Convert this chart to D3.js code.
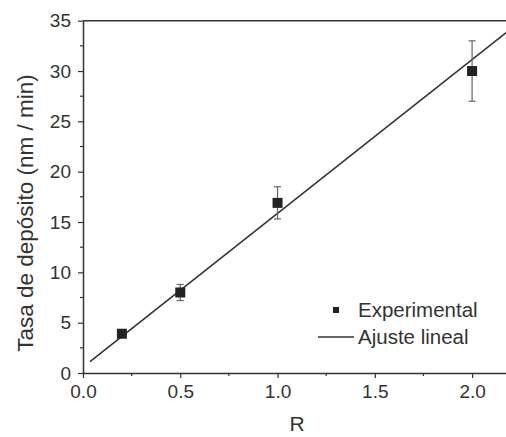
<!DOCTYPE html>
<html>
<head>
<meta charset="utf-8">
<script src="https://cdn.jsdelivr.net/npm/d3@7"></script>
<style>
  body { margin: 0; background: #fff; }
  svg { display: block; font-family: "Liberation Sans", Arial, sans-serif; }
</style>
</head>
<body>
<div id="mainDiv"></div>
<script>
// measured points
var ratioR = [0.2, 0.5, 1.0, 2.0];
var rate = [3.9, 8.0, 16.9, 30.0];
var rateErr = [0.3, 0.8, 1.6, 3.0];

// linear fit endpoints
var fitX = [0.036, 2.2];
var fitY = [1.12, 34.2];

var xTicks = [0, 0.5, 1.0, 1.5, 2.0];
var xMinor = [0.25, 0.75, 1.25, 1.75];
var yTicks = [0, 5, 10, 15, 20, 25, 30, 35];
var yMinor = [2.5, 7.5, 12.5, 17.5, 22.5, 27.5, 32.5];

var ink = "#333";

var svg = d3.select("#mainDiv").append("svg")
    .attr("width", 506).attr("height", 437);

var x = d3.scaleLinear().domain([0, 2.2]).range([83, 511]);
var y = d3.scaleLinear().domain([0, 35]).range([373, 20.7]);

// top frame line
svg.append("line")
    .attr("x1", x(0)).attr("x2", x(2.2))
    .attr("y1", y(35)).attr("y2", y(35))
    .attr("stroke", ink).attr("stroke-width", 1.5);

// x axis
var xAxis = svg.append("g").attr("transform", "translate(0," + y(0) + ")")
    .call(d3.axisBottom(x).tickValues(xTicks).tickFormat(d3.format(".1f"))
        .tickSize(5).tickPadding(7).tickSizeOuter(0));
xAxis.append("g").selectAll("line").data(xMinor).enter().append("line")
    .attr("x1", function(d) { return x(d); }).attr("x2", function(d) { return x(d); })
    .attr("y1", 0).attr("y2", 3).attr("stroke", ink).attr("stroke-width", 1.2);

// y axis
var yAxis = svg.append("g").attr("transform", "translate(" + x(0) + ",0)")
    .call(d3.axisLeft(y).tickValues(yTicks).tickSize(5).tickPadding(7).tickSizeOuter(0));
yAxis.append("g").selectAll("line").data(yMinor).enter().append("line")
    .attr("y1", function(d) { return y(d); }).attr("y2", function(d) { return y(d); })
    .attr("x1", 0).attr("x2", -3).attr("stroke", ink).attr("stroke-width", 1.2);

svg.selectAll(".domain").attr("stroke", ink).attr("stroke-width", 1.5);
svg.selectAll(".tick line").attr("stroke", ink).attr("stroke-width", 1.2);
svg.selectAll(".tick text").attr("fill", ink).style("font-size", "19px")
    .style("font-family", "'Liberation Sans', Arial, sans-serif");

// fit line
svg.append("line")
    .attr("x1", x(fitX[0])).attr("y1", y(fitY[0]))
    .attr("x2", x(fitX[1])).attr("y2", y(fitY[1]))
    .attr("stroke", ink).attr("stroke-width", 1.6);

// error bars + markers
ratioR.forEach(function(r, i) {
    var cx = x(r);
    var top = y(rate[i] + rateErr[i]), bot = y(rate[i] - rateErr[i]);
    svg.append("line").attr("x1", cx).attr("x2", cx).attr("y1", top).attr("y2", bot)
        .attr("stroke", "#666").attr("stroke-width", 1.2);
    [top, bot].forEach(function(yy) {
        svg.append("line").attr("x1", cx - 3.5).attr("x2", cx + 3.5).attr("y1", yy).attr("y2", yy)
            .attr("stroke", "#666").attr("stroke-width", 1.2);
    });
    svg.append("rect")
        .attr("x", cx - 5).attr("y", y(rate[i]) - 5)
        .attr("width", 10).attr("height", 10)
        .attr("fill", "#222");
});

// legend
svg.append("rect").attr("x", 333).attr("y", 307).attr("width", 6).attr("height", 6).attr("fill", "#222");
svg.append("text").attr("x", 358).attr("y", 317).text("Experimental")
    .attr("fill", ink).style("font-size", "20.5px");
svg.append("line").attr("x1", 318).attr("x2", 354).attr("y1", 337).attr("y2", 337)
    .attr("stroke", ink).attr("stroke-width", 1.5);
svg.append("text").attr("x", 358).attr("y", 344).text("Ajuste lineal")
    .attr("fill", ink).style("font-size", "20.5px");

// axis titles
svg.append("text").attr("x", 297).attr("y", 431).attr("text-anchor", "middle")
    .text("R").attr("fill", ink).style("font-size", "21px");
svg.append("text")
    .attr("transform", "translate(33,213) rotate(-90)")
    .attr("text-anchor", "middle")
    .text("Tasa de depósito (nm / min)")
    .attr("fill", ink).style("font-size", "22.5px");
</script>
</body>
</html>
